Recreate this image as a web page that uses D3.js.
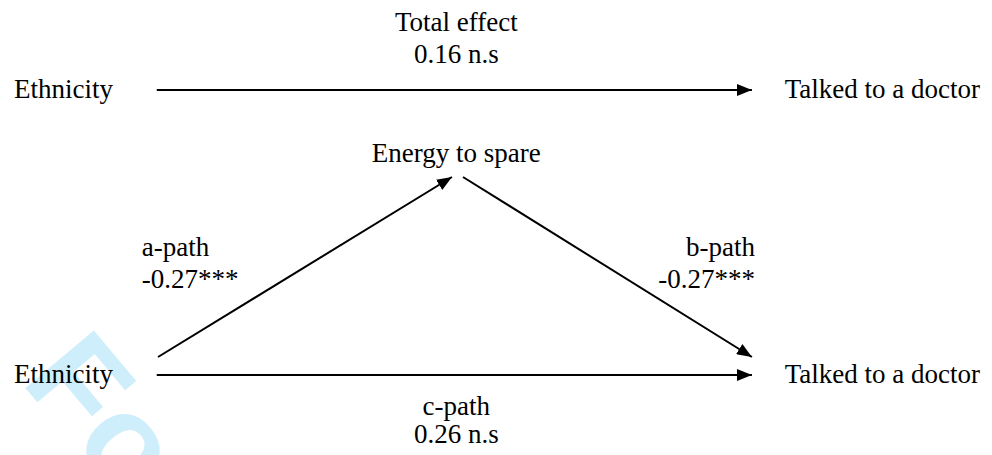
<!DOCTYPE html>
<html>
<head>
<meta charset="utf-8">
<script src="https://cdn.jsdelivr.net/npm/d3@7/dist/d3.min.js"></script>
<style>
  html, body { margin: 0; padding: 0; background: #fff; }
  svg { display: block; }
</style>
</head>
<body>
<div id="chart"></div>
<script>
// ---- data ----
const nodeNames = ["Ethnicity", "Talked to a doctor", "Energy to spare", "Ethnicity", "Talked to a doctor"];
const pathNames = ["Total effect", "a-path", "b-path", "c-path"];
const pathValues = ["0.16 n.s", "-0.27***", "-0.27***", "0.26 n.s"];
const watermark = "For Peer Review";

// ---- layout (grid units -> pixels via scales) ----
const W = 992, H = 455;
const x = d3.scaleLinear().domain([0, 100]).range([0, 992]);
const y = d3.scaleLinear().domain([0, 100]).range([0, 455]);

const svg = d3.select("#chart").append("svg").attr("width", W).attr("height", H);

// watermark
svg.append("text")
  .attr("transform", `translate(${x(2.0)},${y(83.8)}) rotate(50)`)
  .attr("font-family", "Liberation Sans")
  .attr("font-weight", "bold")
  .attr("font-size", 130)
  .attr("fill", "#cfeefc")
  .text(watermark);

// arrowhead marker
svg.append("defs").append("marker")
  .attr("id", "arr")
  .attr("viewBox", "0 0 15 12")
  .attr("refX", 15).attr("refY", 6)
  .attr("markerWidth", 15).attr("markerHeight", 12)
  .attr("markerUnits", "userSpaceOnUse")
  .attr("orient", "auto")
  .append("path").attr("d", "M0,0 L15,6 L0,12 Z").attr("fill", "#000");

function label(xp, yp, anchor, txt) {
  svg.append("text")
    .attr("x", xp).attr("y", yp)
    .attr("text-anchor", anchor)
    .attr("font-family", "Liberation Serif")
    .attr("font-size", 27)
    .attr("fill", "#000")
    .text(txt);
}

// node positions [x, y, anchor]
const nodePos = [
  [x(1.41), y(21.54), "start"],
  [x(79.1), y(21.54), "start"],
  [x(46.0), y(35.6), "middle"],
  [x(1.41), y(84.2), "start"],
  [x(79.1), y(84.2), "start"]
];
nodeNames.forEach((nm, i) => label(nodePos[i][0], nodePos[i][1], nodePos[i][2], nm));

// arrows [x1,y1,x2,y2]
const arrows = [
  [x(15.8), y(19.78), x(75.8), y(19.78)],
  [x(15.93), y(78.46), x(45.56), y(38.9)],
  [x(46.67), y(38.9), x(75.8), y(78.46)],
  [x(15.8), y(82.42), x(75.8), y(82.42)]
];
svg.selectAll("line.arrow").data(arrows).enter().append("line")
  .attr("class", "arrow")
  .attr("x1", d => d[0]).attr("y1", d => d[1])
  .attr("x2", d => d[2]).attr("y2", d => d[3])
  .attr("stroke", "#000").attr("stroke-width", 2)
  .attr("marker-end", "url(#arr)");

// path labels: [x, y(name), y(value), anchor]
const labelPos = [
  [x(46.0), y(6.81), y(13.85), "middle"],
  [x(14.3), y(56.26), y(63.3), "start"],
  [x(76.1), y(56.26), y(63.3), "end"],
  [x(46.0), y(91.2), y(97.36), "middle"]
];
pathNames.forEach((nm, i) => {
  const p = labelPos[i];
  label(p[0], p[1], p[3], nm);
  label(p[0], p[2], p[3], pathValues[i]);
});
</script>
</body>
</html>
